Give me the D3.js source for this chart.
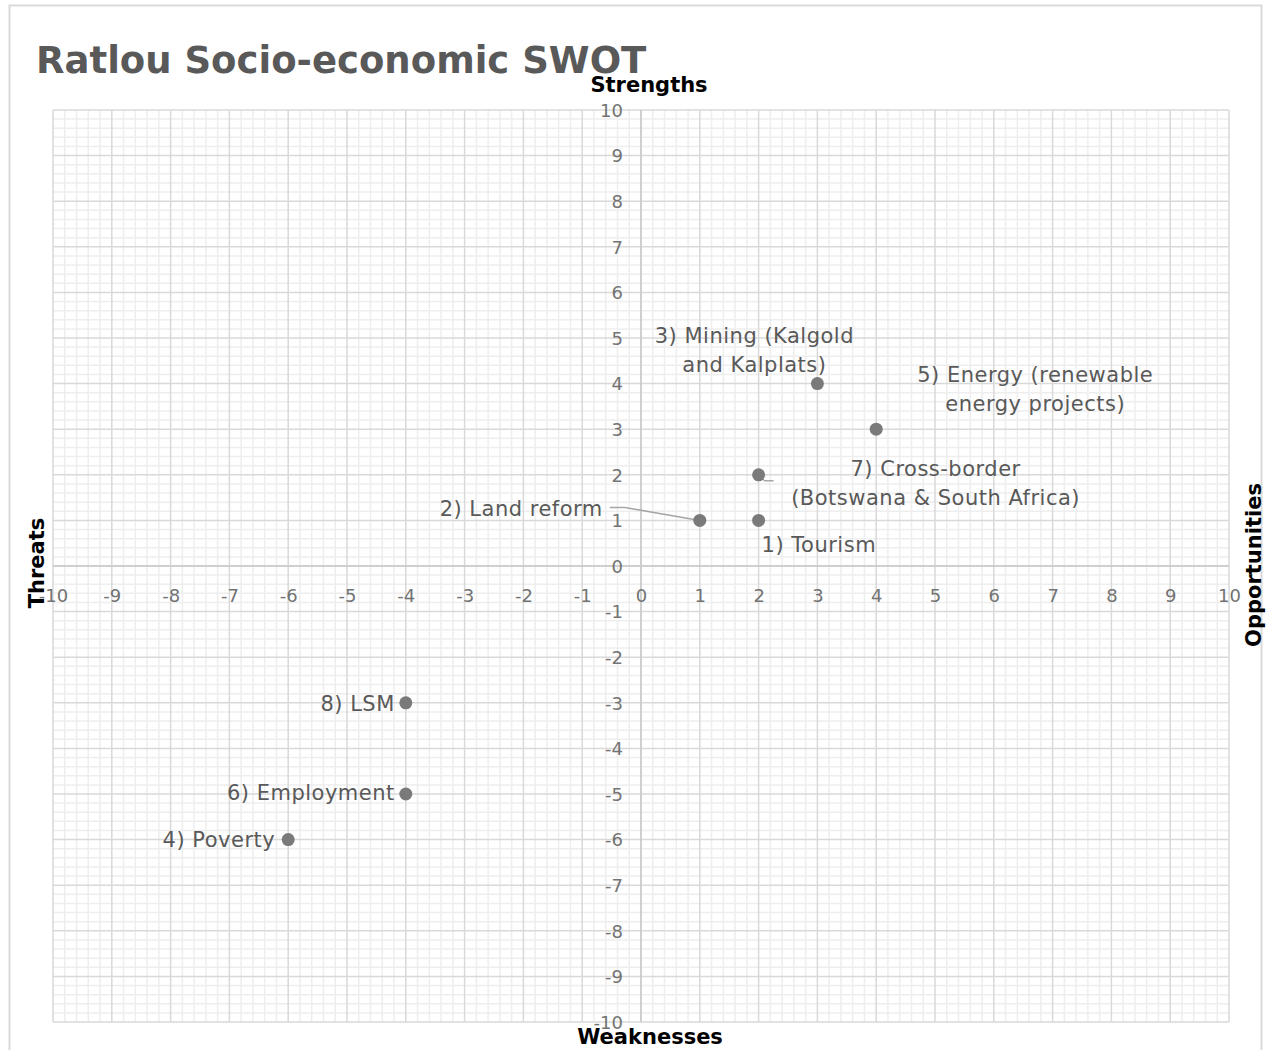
<!DOCTYPE html>
<html><head><meta charset="utf-8">
<script src="https://cdn.jsdelivr.net/npm/d3@7"></script>
<style>body{margin:0;background:#fff}svg{display:block}</style>
</head><body>
<script>
const title = "Ratlou Socio-economic SWOT";
const labels = ["1) Tourism","2) Land reform","3) Mining (Kalgold and Kalplats)","4) Poverty","5) Energy (renewable energy projects)","6) Employment","7) Cross-border (Botswana & South Africa)","8) LSM"];
const xValues = [2, 1, 3, -6, 4, -4, 2, -4];
const yValues = [1, 1, 4, -6, 3, -5, 2, -3];
const labelLines = [["1) Tourism"],["2) Land reform"],["3) Mining (Kalgold","and Kalplats)"],["4) Poverty"],["5) Energy (renewable","energy projects)"],["6) Employment"],["7) Cross-border","(Botswana & South Africa)"],["8) LSM"]];
// label placement offsets (px, relative to point) and anchors
const labelPlace = [
  {dx:3, dy:24, anchor:"start"},
  {dx:-97, dy:-12, anchor:"end", leader:true},
  {dx:-63, dy:-33, anchor:"middle"},
  {dx:-13, dy:0, anchor:"end"},
  {dx:159, dy:-40, anchor:"middle"},
  {dx:-11, dy:-1, anchor:"end"},
  {dx:177, dy:8, anchor:"middle", leader2:true},
  {dx:-11, dy:1, anchor:"end"}
];
const ticks = d3.range(-10, 11, 1);
const axisTitles = {top:"Strengths", bottom:"Weaknesses", left:"Threats", right:"Opportunities"};

const W = 1271, H = 1050;
const FONT = "'DejaVu Sans', sans-serif";
const svg = d3.select("body").append("svg").attr("width", W).attr("height", H);

svg.append("rect").attr("x",9.5).attr("y",5.5).attr("width",1252).attr("height",1070)
  .attr("fill","#fff").attr("stroke","#d9d9d9").attr("stroke-width",2);

const L = 53, R = 1229, T = 110, B = 1022;
const x = d3.scaleLinear().domain([-10,10]).range([L,R]);
const y = d3.scaleLinear().domain([-10,10]).range([B,T]);

const g = svg.append("g");
const minor = d3.range(-10, 10.001, 0.2).map(v => +v.toFixed(1)).filter(v => Math.abs(v - Math.round(v)) > 1e-6);
g.selectAll(".mx").data(minor).join("line").attr("x1",d=>x(d)).attr("x2",d=>x(d)).attr("y1",T).attr("y2",B)
  .attr("stroke","#eeeeee").attr("stroke-width",1.5);
g.selectAll(".my").data(minor).join("line").attr("y1",d=>y(d)).attr("y2",d=>y(d)).attr("x1",L).attr("x2",R)
  .attr("stroke","#eeeeee").attr("stroke-width",1.5);
g.selectAll(".Mx").data(ticks).join("line").attr("x1",d=>x(d)).attr("x2",d=>x(d)).attr("y1",T).attr("y2",B)
  .attr("stroke","#d9d9d9").attr("stroke-width",1.5);
g.selectAll(".My").data(ticks).join("line").attr("y1",d=>y(d)).attr("y2",d=>y(d)).attr("x1",L).attr("x2",R)
  .attr("stroke","#d9d9d9").attr("stroke-width",1.5);
// zero axes
g.append("line").attr("x1",x(0)).attr("x2",x(0)).attr("y1",T).attr("y2",B).attr("stroke","#c8c8c8").attr("stroke-width",1.5);
g.append("line").attr("y1",y(0)).attr("y2",y(0)).attr("x1",L).attr("x2",R).attr("stroke","#c8c8c8").attr("stroke-width",1.5);

// tick labels
const fmt = d => String(d);
const xa = svg.append("g").attr("transform",`translate(0,${y(0)})`)
  .call(d3.axisBottom(x).tickValues(ticks).tickSize(0).tickPadding(0).tickFormat(fmt));
xa.select(".domain").remove();
xa.selectAll("text").attr("font-family",FONT).attr("font-size",18).attr("fill","#737373").attr("y",30).attr("dy","0.35em");
const ya = svg.append("g").attr("transform",`translate(${x(0)-18},0)`)
  .call(d3.axisLeft(y).tickValues(ticks).tickSize(0).tickPadding(0).tickFormat(fmt));
ya.select(".domain").remove();
ya.selectAll("text").attr("font-family",FONT).attr("font-size",18).attr("fill","#737373").attr("dy","0.35em");

// leader lines
labelPlace.forEach((p,i)=>{
  const px = x(xValues[i]), py = y(yValues[i]);
  if (p.leader) {
    svg.append("path").attr("d",`M${px},${py}L${px-75},${py-13}L${px-90},${py-13}`)
      .attr("fill","none").attr("stroke","#a6a6a6").attr("stroke-width",1.5);
  }
  if (p.leader2) {
    svg.append("path").attr("d",`M${px},${py}L${px+6},${py+6}L${px+15},${py+6}`)
      .attr("fill","none").attr("stroke","#a6a6a6").attr("stroke-width",1.5);
  }
});

// points
svg.selectAll(".pt").data(xValues).join("circle")
  .attr("cx",(d,i)=>x(d)).attr("cy",(d,i)=>y(yValues[i])).attr("r",6.5).attr("fill","#7a7a7a");

// labels
labelLines.forEach((lines,i)=>{
  const p = labelPlace[i];
  const px = x(xValues[i]) + p.dx, py = y(yValues[i]) + p.dy;
  const t = svg.append("text").attr("font-family",FONT).attr("font-size",21).attr("letter-spacing","0.5px")
    .attr("fill","#595959").attr("text-anchor",p.anchor);
  const n = lines.length;
  lines.forEach((s,k)=>{
    t.append("tspan").attr("x",px).attr("y",py + (k - (n-1)/2)*29).attr("dy","0.35em").text(s);
  });
});

// title
svg.append("text").attr("x",36).attr("y",73).attr("font-family",FONT).attr("font-weight","bold")
  .attr("font-size",37).attr("fill","#595959").text(title);

// axis titles
const at = {"font-family":FONT,"font-weight":"bold","font-size":21,"fill":"#000","text-anchor":"middle"};
function addT(txt,xx,yy,rot){
  const t = svg.append("text").text(txt);
  Object.entries(at).forEach(([k,v])=>t.attr(k,v));
  t.attr("transform",`translate(${xx},${yy}) rotate(${rot||0})`).attr("dy","0.35em");
}
addT(axisTitles.top, 649, 85);
addT(axisTitles.bottom, 650, 1037);
addT(axisTitles.left, 37, 563, -90);
addT(axisTitles.right, 1254, 565, -90);
</script>
</body></html>
